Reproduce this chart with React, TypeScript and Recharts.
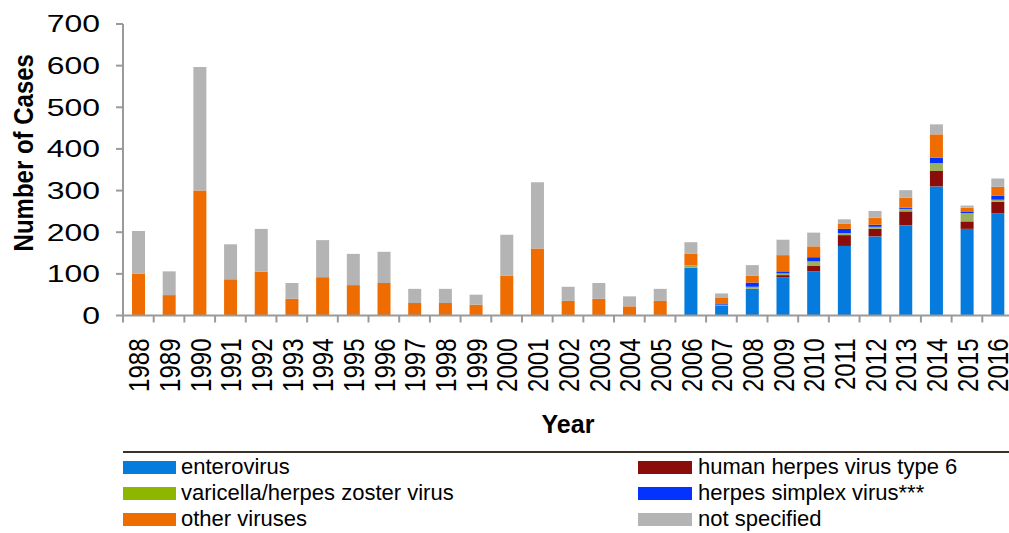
import React from 'react';
import { BarChart, Bar, XAxis, YAxis, Legend } from 'recharts';

const years = ['1988','1989','1990','1991','1992','1993','1994','1995','1996','1997','1998','1999','2000','2001','2002','2003','2004','2005','2006','2007','2008','2009','2010','2011','2012','2013','2014','2015','2016'];
const enterovirus = [0,0,0,0,0,0,0,0,0,0,0,0,0,0,0,0,0,0,115,23,64,92,106,167,190,217,310,208,245];
const hhv6 = [0,0,0,0,0,0,0,0,0,0,0,0,0,0,0,0,0,0,0,1,0,5,14,26,18,33,37,18,28];
const vzv = [0,0,0,0,0,0,0,0,0,0,0,0,0,0,0,0,0,0,5,2,5,4,10,5,5,6,19,20,5];
const hsv = [0,0,0,0,0,0,0,0,0,0,0,0,0,0,0,0,0,0,0,3,10,5,10,10,5,3,13,4,10];
const otherViruses = [100,49,300,87,105,40,92,73,78,30,30,26,96,161,35,40,22,35,28,13,17,39,26,13,17,24,56,9,21];
const notSpecified = [103,57,297,84,103,38,89,75,75,34,34,24,98,159,34,38,24,29,28,11,25,37,33,10,16,18,24,5,20];
const yTicks = [0,100,200,300,400,500,600,700];

const series = [
  { key: 'enterovirus', name: 'enterovirus', values: enterovirus, color: '#057BDD', legendColor: '#057BDD' },
  { key: 'hhv6', name: 'human herpes virus type 6', values: hhv6, color: '#8A0D0B', legendColor: '#8A0D0B' },
  { key: 'vzv', name: 'varicella/herpes zoster virus', values: vzv, color: '#9BB05E', legendColor: '#8DB600' },
  { key: 'hsv', name: 'herpes simplex virus***', values: hsv, color: '#0433FF', legendColor: '#0433FF' },
  { key: 'other', name: 'other viruses', values: otherViruses, color: '#EE6C00', legendColor: '#EE6C00' },
  { key: 'unspecified', name: 'not specified', values: notSpecified, color: '#B4B4B4', legendColor: '#B4B4B4' },
];

const legendOrder = [
  ['enterovirus', 'hhv6'],
  ['vzv', 'hsv'],
  ['other', 'unspecified'],
];

const data = years.map((y, i) => {
  const row: Record<string, any> = { year: y };
  series.forEach(s => { row[s.key] = s.values[i]; });
  return row;
});

const FONT = '"Liberation Sans", Arial, sans-serif';

const XTick = (props: any) => {
  const { x, y, payload } = props;
  const half = payload && payload.offset ? payload.offset : 15.35;
  return (
    <g>
      <line x1={x - half} x2={x - half} y1={y} y2={y + 7} stroke="#9a9a9a" strokeWidth={2} />
      <text
        transform={`translate(${x + 1},${y + 23}) scale(1.22,1) rotate(-90)`}
        textAnchor="end"
        dominantBaseline="central"
        fontSize={24}
        fontFamily={FONT}
        fill="#000"
      >
        {payload.value}
      </text>
    </g>
  );
};

const YTick = (props: any) => {
  const { x, y, payload } = props;
  return (
    <text
      transform={`translate(${x},${y}) scale(1.33,1)`}
      textAnchor="end"
      dominantBaseline="central"
      fontSize={24}
      fontFamily={FONT}
      fill="#000"
    >
      {payload.value}
    </text>
  );
};

const renderLegend = () => {
  const byKey: Record<string, any> = {};
  series.forEach(s => { byKey[s.key] = s; });
  return (
    <div style={{ position: 'relative', width: 1009, height: 90, fontFamily: FONT }}>
      <div style={{ position: 'absolute', left: 123, top: 6, width: 900, height: 2, background: '#3b3127' }} />
      {legendOrder.map((row, r) =>
        row.map((k, c) => {
          const s = byKey[k];
          const left = c === 0 ? 123 : 638;
          const top = 16 + r * 26;
          return (
            <div key={k} style={{ position: 'absolute', left, top, height: 14, whiteSpace: 'nowrap' }}>
              <div style={{ position: 'absolute', left: 0, top: 0, width: c === 0 ? 53 : 54, height: 13, background: s.legendColor }} />
              <div style={{ position: 'absolute', left: c === 0 ? 58 : 60, top: -7, fontSize: 22, lineHeight: '26px', color: '#000' }}>{s.name}</div>
            </div>
          );
        })
      )}
    </div>
  );
};

export default function App() {
  return (
    <div style={{ position: 'fixed', left: 0, top: 0, width: 1009, height: 533, overflow: 'hidden', background: '#fff' }}>
      <BarChart
        width={1020}
        height={533}
        data={data}
        margin={{ top: 24, right: 7, left: 0, bottom: 117.5 }}
      >
        <XAxis
          dataKey="year"
          height={100}
          interval={0}
          tickLine={false}
          tickSize={0}
          tickMargin={0}
          axisLine={{ stroke: '#9a9a9a', strokeWidth: 2 }}
          tick={<XTick />}
          label={{
            content: (p: any) => {
              const vb = p.viewBox || { x: 123, y: 316, width: 890 };
              return (
                <text x={vb.x + vb.width / 2} y={vb.y + 117} textAnchor="middle" fontSize={25} fontWeight="bold" fontFamily={FONT} fill="#000">Year</text>
              );
            },
          }}
        />
        <YAxis
          width={123}
          domain={[0, 700]}
          ticks={yTicks}
          interval={0}
          tickSize={7}
          tickMargin={16}
          tickLine={{ stroke: '#9a9a9a', strokeWidth: 2 }}
          axisLine={{ stroke: '#9a9a9a', strokeWidth: 2 }}
          tick={<YTick />}
          label={{
            content: (p: any) => {
              const vb = p.viewBox || { x: 0, y: 24, height: 292 };
              const cy = vb.y + vb.height / 2 - 17;
              return (
                <text transform={`translate(23,${cy}) scale(1.15,1) rotate(-90)`} textAnchor="middle" dominantBaseline="central" fontSize={24} fontWeight="bold" fontFamily={FONT} fill="#000">Number of Cases</text>
              );
            },
          }}
        />
        <Legend
          layout="horizontal"
          verticalAlign="middle"
          align="center"
          content={renderLegend}
          wrapperStyle={{ position: 'absolute', left: 0, top: 445, width: 1009, height: 90 }}
        />
        {series.map(s => (
          <Bar key={s.key} dataKey={s.key} name={s.name} stackId="a" fill={s.color} barSize={13} isAnimationActive={false} />
        ))}
      </BarChart>
    </div>
  );
}
